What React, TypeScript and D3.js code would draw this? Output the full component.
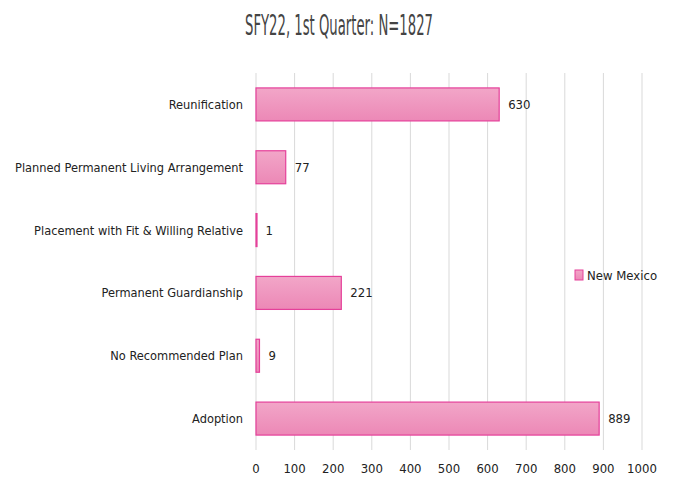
import React from "react";
import * as d3 from "d3";

const categories = [
  "Reunification",
  "Planned Permanent Living Arrangement",
  "Placement with Fit & Willing Relative",
  "Permanent Guardianship",
  "No Recommended Plan",
  "Adoption",
];
const values = [630, 77, 1, 221, 9, 889];
const xTicks = [0, 100, 200, 300, 400, 500, 600, 700, 800, 900, 1000];
const seriesName = "New Mexico";
const title = "SFY22, 1st Quarter: N=1827";

export default function App() {
  const W = 673, H = 487;
  const left = 256, right = 642, top = 73, bottom = 450;
  const x = d3.scaleLinear().domain([0, 1000]).range([left, right]);
  const y = d3.scaleBand().domain(categories).range([top, bottom]).paddingInner(0.475).paddingOuter(0.2375);
  const font = "'DejaVu Sans Condensed', 'Liberation Sans Narrow', sans-serif";
  return (
    <svg width={W} height={H} style={{ position: "absolute", left: 0, top: 0, background: "#fff" }}>
      <defs>
        <linearGradient id="barg" x1="0" y1="0" x2="0" y2="1">
          <stop offset="0" stopColor="#f2a6c8" />
          <stop offset="1" stopColor="#ec88b6" />
        </linearGradient>
      </defs>
      <rect width={W} height={H} fill="#fff" />
      <text x={339} y={35} textAnchor="middle" fontFamily={font} fontSize={28} fontWeight={300} fill="#444" textLength={188} lengthAdjust="spacingAndGlyphs">{title}</text>
      {xTicks.map((t) => (
        <g key={t}>
          <line x1={x(t)} x2={x(t)} y1={top} y2={bottom} stroke="#d9d9d9" strokeWidth={1} />
          <text x={x(t)} y={473} textAnchor="middle" fontFamily={font} fontSize={13} fill="#222">{t}</text>
        </g>
      ))}
      {categories.map((c, i) => {
        const yy = y(c)!;
        const bw = y.bandwidth();
        return (
          <g key={c}>
            <rect x={x(0)} y={yy} width={Math.max(x(values[i]) - x(0), 1)} height={bw} fill="url(#barg)" stroke="#e5409a" strokeWidth={1.2} />
            <text x={243} y={yy + bw / 2 + 4.5} textAnchor="end" fontFamily={font} fontSize={12.7} fill="#222">{c}</text>
            <text x={x(values[i]) + 9} y={yy + bw / 2 + 4.5} fontFamily={font} fontSize={13} fill="#222">{values[i]}</text>
          </g>
        );
      })}
      <rect x={575} y={270} width={8} height={10} fill="url(#barg)" stroke="#e5409a" strokeWidth={1} />
      <text x={587} y={279.5} fontFamily={font} fontSize={13} fill="#222">{seriesName}</text>
    </svg>
  );
}
